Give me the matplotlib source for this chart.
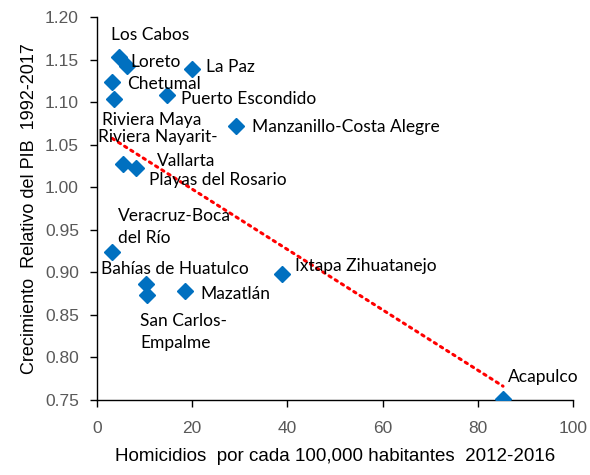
import numpy as np
import matplotlib
matplotlib.use("Agg")
import matplotlib.pyplot as plt
from matplotlib.ticker import FormatStrFormatter

cities = ["Los Cabos", "Loreto", "La Paz", "Chetumal", "Riviera Maya",
          "Puerto Escondido", "Manzanillo-Costa Alegre", "Riviera Nayarit-Vallarta",
          "Playas del Rosario", "Veracruz-Boca del Río", "Bahías de Huatulco",
          "San Carlos-Empalme", "Mazatlán", "Ixtapa Zihuatanejo", "Acapulco"]
homicidios = [4.6, 6.4, 20.0, 3.2, 3.6, 14.8, 29.2, 5.5, 8.2, 3.2, 10.3, 10.6, 18.5, 38.9, 85.3]
crecimiento = [1.153, 1.142, 1.139, 1.124, 1.104, 1.108, 1.072, 1.027, 1.022,
               0.9235, 0.886, 0.873, 0.878, 0.898, 0.751]

# label lines: (text, dx_px, dy_px) relative to marker, pixels (dy positive = up)
label_lines = [
    [("Los Cabos", -8, 22)],
    [("Loreto", 3, 4)],
    [("La Paz", 14, 2)],
    [("Chetumal", 15, -2)],
    [("Riviera Maya", -12, -21)],
    [("Puerto Escondido", 14, -4)],
    [("Manzanillo-Costa Alegre", 16, -1)],
    [("Riviera Nayarit-", -25, 27), ("Vallarta", 34, 3)],
    [("Playas del Rosario", 13, -12)],
    [("Veracruz-Boca", 6, 36), ("del Río", 6, 14)],
    [("Bahías de Huatulco", -45, 15)],
    [("San Carlos-", -7, -26), ("Empalme", -7, -48)],
    [("Mazatlán", 15, -3)],
    [("Ixtapa Zihuatanejo", 13, 8)],
    [("Acapulco", 5, 22)],
]

fig = plt.figure(figsize=(5.9, 4.75), dpi=100)
ax = fig.add_axes([97/590, 1 - 400/475, (573-97)/590, (400-17)/475])

x = np.array(homicidios)
y = np.array(crecimiento)
m, b = np.polyfit(x, y, 1)
xt = np.array([x.min(), x.max()])
ax.plot(xt, m*xt + b, color="#FF0000", linestyle=(0, (0.8, 1.6)), linewidth=2.2,
        dash_capstyle="round", zorder=2)
ax.plot(x, y, linestyle="none", marker="D", markersize=8, color="#0070C0", zorder=3)

for xi, yi, lines in zip(x, y, label_lines):
    for txt, dx, dy in lines:
        ax.annotate(txt, (xi, yi), xytext=(dx, dy), textcoords="offset pixels",
                    ha="left", va="center", fontsize=12.5, family="Lato", color="#000000",
                    zorder=4)

ax.set_xlim(0, 100)
ax.set_ylim(0.75, 1.20)
ax.set_xticks([0, 20, 40, 60, 80, 100])
ax.set_yticks(np.arange(0.75, 1.2001, 0.05))
ax.yaxis.set_major_formatter(FormatStrFormatter("%.2f"))
for s in ["top", "right"]:
    ax.spines[s].set_visible(False)
for s in ["left", "bottom"]:
    ax.spines[s].set_color("#000000")
    ax.spines[s].set_linewidth(1.0)
ax.tick_params(direction="out", length=5, width=1, color="#000000",
               labelsize=12.5, labelcolor="#595959")
ax.tick_params(axis="y", pad=8)
ax.tick_params(axis="x", pad=10)
for lbl in ax.get_xticklabels() + ax.get_yticklabels():
    lbl.set_family("Liberation Sans")

ax.set_xlabel("Homicidios  por cada 100,000 habitantes  2012-2016", fontsize=13.5,
              family="Liberation Sans", labelpad=9)
ax.set_ylabel("Crecimiento  Relativo del PIB  1992-2017", fontsize=13,
              family="Liberation Sans", labelpad=5)

fig.savefig("out.png", dpi=100)
